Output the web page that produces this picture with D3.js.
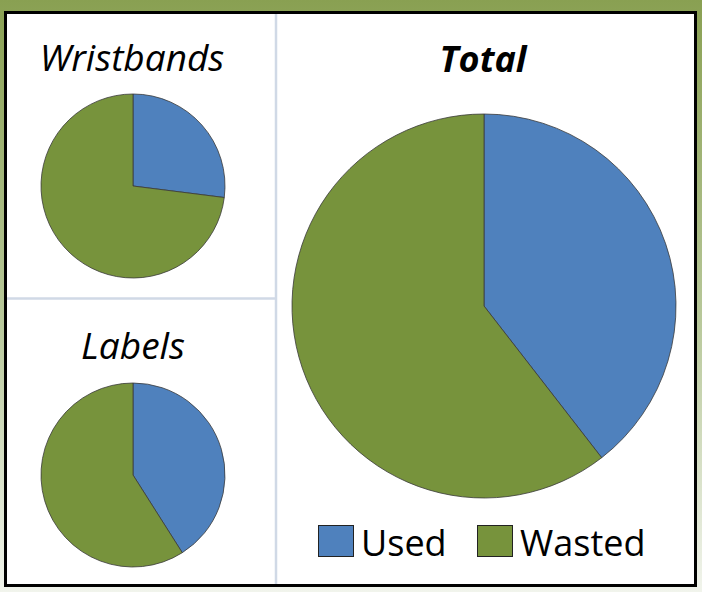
<!DOCTYPE html>
<html><head><meta charset="utf-8">
<script src="https://cdn.jsdelivr.net/npm/d3@7"></script>
<style>html,body{margin:0;padding:0;background:#fff;}svg{display:block;}</style>
</head><body>
<script>
const categories = ["Used", "Wasted"];
const wristbandsValues = [27, 73];
const labelsValues = [41, 59];
const totalValues = [39.5, 60.5];
const titles = ["Wristbands", "Labels", "Total"];
const colors = ["#4F81BD", "#77933C"];

const W = 702, H = 592;
const svg = d3.select("body").append("svg").attr("width", W).attr("height", H);
const defs = svg.append("defs");
const grad = defs.append("linearGradient").attr("id", "bg").attr("x1", 0).attr("y1", 0).attr("x2", 0).attr("y2", 1);
grad.append("stop").attr("offset", "0%").attr("stop-color", "#89A052");
grad.append("stop").attr("offset", "55%").attr("stop-color", "#B9C99C");
grad.append("stop").attr("offset", "100%").attr("stop-color", "#F1F4EC");
svg.append("rect").attr("width", W).attr("height", H).attr("fill", "url(#bg)");

// frame
svg.append("rect").attr("x", 5.5).attr("y", 12.5).attr("width", 690).attr("height", 573)
  .attr("fill", "#fff").attr("stroke", "#000").attr("stroke-width", 3);

// dividers
svg.append("line").attr("x1", 276).attr("x2", 276).attr("y1", 14).attr("y2", 584)
  .attr("stroke", "#D0D9E6").attr("stroke-width", 2.5);
svg.append("line").attr("x1", 7).attr("x2", 276).attr("y1", 298.5).attr("y2", 298.5)
  .attr("stroke", "#D0D9E6").attr("stroke-width", 2.5);

const color = d3.scaleOrdinal().domain(categories).range(colors);
const pie = d3.pie().sort(null).value(d => d.v);

function drawPie(values, cx, cy, r) {
  const data = pie(categories.map((c, i) => ({c, v: values[i]})));
  const arc = d3.arc().innerRadius(0).outerRadius(r);
  const g = svg.append("g").attr("transform", `translate(${cx},${cy})`);
  g.selectAll("path").data(data).join("path")
    .attr("d", arc).attr("fill", d => color(d.data.c))
    .attr("stroke", "#3a3a3a").attr("stroke-width", 0.8).attr("stroke-linejoin", "round");
}

drawPie(wristbandsValues, 133, 186, 92);
drawPie(labelsValues, 133, 475, 92);
drawPie(totalValues, 484, 306, 192);

const font = "'Open Sans', 'Noto Sans', sans-serif";
svg.append("text").attr("x", 132).attr("y", 71).attr("text-anchor", "middle")
  .attr("font-family", font).attr("font-size", 37).attr("font-style", "italic").text(titles[0]);
svg.append("text").attr("x", 133).attr("y", 359).attr("text-anchor", "middle")
  .attr("font-family", font).attr("font-size", 37).attr("font-style", "italic").text(titles[1]);
svg.append("text").attr("x", 483).attr("y", 72).attr("text-anchor", "middle")
  .attr("font-family", font).attr("font-size", 36).attr("font-style", "italic").attr("font-weight", "bold").text(titles[2]);

// legend
const legendX = [318, 477];
const lg = svg.append("g");
categories.forEach((c, i) => {
  lg.append("rect").attr("x", legendX[i] + 0.5).attr("y", 525.5).attr("width", 35).attr("height", 31)
    .attr("fill", color(c)).attr("stroke", "#222").attr("stroke-width", 1);
  lg.append("text").attr("x", legendX[i] + 43).attr("y", 556)
    .attr("font-family", font).attr("font-size", 36).attr("fill", "#000").text(c);
});
</script>
</body></html>
